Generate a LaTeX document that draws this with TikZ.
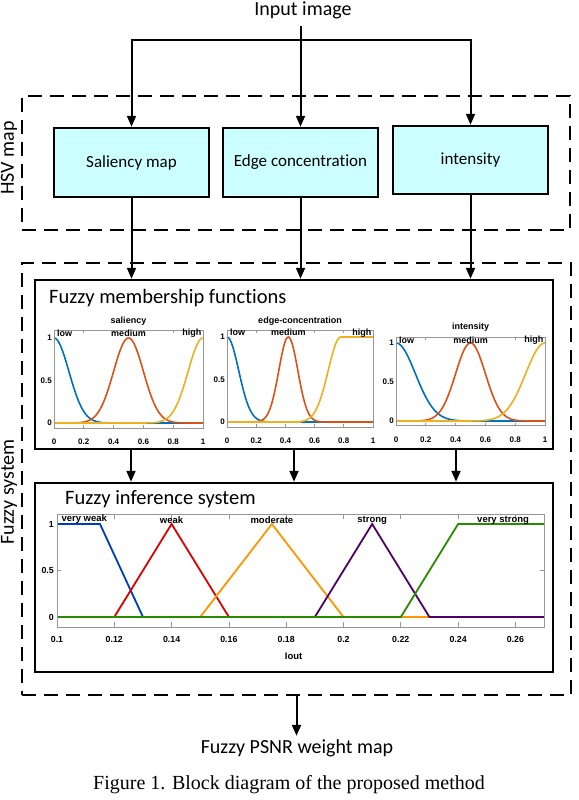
\documentclass[tikz,border=0pt]{standalone}
\usepackage{fontspec}
\setmainfont{Carlito}[Ligatures=NoCommon]
\newfontfamily\capfont{Liberation Serif}
\newfontfamily\plotfont{Liberation Sans}
\usetikzlibrary{arrows.meta}
\definecolor{boxcyan}{RGB}{204,255,255}
\definecolor{mblue}{rgb}{0,0.447,0.741}
\definecolor{morange}{rgb}{0.85,0.325,0.098}
\definecolor{myellow}{rgb}{0.929,0.694,0.125}
\definecolor{vwblue}{RGB}{0,60,190}
\definecolor{wred}{RGB}{220,0,0}
\definecolor{morng}{RGB}{255,150,0}
\definecolor{spurple}{RGB}{80,0,100}
\definecolor{vsgreen}{RGB}{40,140,0}
\definecolor{axgray}{RGB}{150,150,150}
\tikzset{
  arr/.style={line width=2pt,-{Triangle[length=11pt,width=9pt]}},
  hsvbox/.style={draw,line width=2.5pt,fill=boxcyan,inner sep=0pt,font=\fontsize{17}{19}\selectfont},
  panel/.style={draw,line width=2.5pt,fill=white,inner sep=0pt},
  dashbox/.style={draw,line width=2.5pt,dash pattern=on 14pt off 8pt,inner sep=0pt},
  mfline/.style={line width=1.6pt},
  fisline/.style={line width=1.8pt},
  axline/.style={draw=axgray,line width=0.7pt},
  ticklab/.style={font=\plotfont\bfseries\fontsize{8}{9}\selectfont,inner sep=1pt},
  fistick/.style={font=\plotfont\bfseries\fontsize{8.8}{10}\selectfont,inner sep=1pt},
  mflab/.style={font=\plotfont\bfseries\fontsize{9}{10}\selectfont,inner sep=0pt},
  fislab/.style={font=\plotfont\bfseries\fontsize{9.5}{10}\selectfont,inner sep=0pt},
  bigtxt/.style={font=\fontsize{20}{22}\selectfont},
  paneltitle/.style={font=\fontsize{20.5}{22}\selectfont,anchor=west,inner sep=0pt},
}
% membership axes: #1 prefix, #2 ytop, #3 ybottom
\newcommand{\mfaxes}[3]{%
  \foreach \t/\l [count=\i] in {0/0,0.2/0.2,0.4/0.4,0.6/0.6,0.8/0.8,1/1}{%
    \draw[axline] (\t,#3) -- ++(0,0.04);
    \draw[axline] (\t,#2) -- ++(0,-0.04);
    \node[ticklab,yshift=-19pt] (#1x\i) at (\t,0) {\l};}
  \foreach \t/\l [count=\i] in {0/0,0.5/0.5,1/1}{%
    \node[ticklab,anchor=east,xshift=-1pt] (#1y\i) at (0,\t) {\l};}
}
\begin{document}
\begin{tikzpicture}[x=1pt,y=-1pt]
\useasboundingbox (0,0) rectangle (578,800);
\fill[white] (0,0) rectangle (578,800);

% ---------- HSV map ----------
\node[bigtxt] (in) at (303,10) {Input image};
\node[dashbox,minimum width=548pt,minimum height=134pt] (hsv) at (296,163) {};
\node[bigtxt,rotate=90] (hsvlab) at (9,158) {HSV map};
\node[hsvbox,minimum width=155pt,minimum height=69pt] (sal) at (131.5,162.5) {Saliency map};
\node[hsvbox,minimum width=155pt,minimum height=69pt] (edge) at (300.5,162.5) {Edge concentration};
\node[hsvbox,minimum width=155pt,minimum height=68pt] (int) at (470.5,160) {intensity};
\coordinate (j) at (300.5,40);
\draw[line width=2pt] (edge.north |- in.south) ++(0,4) -- (j);
\draw[arr] (j) -- (edge.north);
\draw[arr] (j) -| (sal.north);
\draw[arr] (j) -| (int.north);

% ---------- Fuzzy system ----------
\node[dashbox,minimum width=549pt,minimum height=432pt] (fz) at (296.5,479) {};
\node[bigtxt,rotate=90] (fzlab) at (9,492) {Fuzzy system};
\node[panel,minimum width=518pt,minimum height=169pt] (mem) at (294,364.5) {};
\node[panel,minimum width=518pt,minimum height=189pt] (inf) at (294,577.5) {};
\node[paneltitle] (memt) at (49,298) {Fuzzy membership functions};
\node[paneltitle] (inft) at (65,499) {Fuzzy inference system};

\draw[arr] (sal.south) -- (sal.south |- mem.north);
\draw[arr] (edge.south) -- (edge.south |- mem.north);
\draw[arr] (int.south) -- (int.south |- mem.north);
\draw[arr] (mem.south -| 131,0) -- (inf.north -| 131,0);
\draw[arr] (mem.south -| 294,0) -- (inf.north -| 294,0);
\draw[arr] (mem.south -| 456,0) -- (inf.north -| 456,0);

% ---------- plot 1: saliency ----------
\begin{scope}[shift={(54,423)},x=149pt,y=85pt]
  \mfaxes{a}{1.094}{-0.06}
  \draw[mfline,mblue] plot[domain=0:1,samples=100] (\x,{exp(-(\x*\x)/0.02)});
  \draw[mfline,morange] plot[domain=0:1,samples=100] (\x,{exp(-((\x-0.5)*(\x-0.5))/0.02)});
  \draw[mfline,myellow] plot[domain=0:1,samples=100] (\x,{exp(-((\x-1)*(\x-1))/0.02)});
  \draw[axline] (0,-0.06) rectangle (1,1.094);
  \node[mflab,anchor=west] (alow) at (0.02,1.06) {low};
  \node[mflab] (amed) at (0.5,1.06) {medium};
  \node[mflab,anchor=east] (ahigh) at (0.99,1.06) {high};
  \node[mflab] (atit) at (0.5,1.2) {saliency};
\end{scope}

% ---------- plot 2: edge-concentration ----------
\begin{scope}[shift={(227,422)},x=146pt,y=85pt]
  \mfaxes{b}{1.082}{-0.06}
  \draw[mfline,mblue] plot[domain=0:1,samples=100] (\x,{exp(-(\x*\x)/0.0128)});
  \draw[mfline,morange] plot[domain=0:1,samples=100] (\x,{exp(-((\x-0.42)*(\x-0.42))/0.00845)});
  \draw[mfline,myellow] (0,0) -- (0.5,0) -- plot[domain=0.5:0.78,samples=40] (\x,{exp(-((\x-0.78)*(\x-0.78))/0.015)}) -- (1,1);
  \draw[axline] (0,-0.06) rectangle (1,1.082);
  \node[mflab,anchor=west] (blow) at (0.02,1.05) {low};
  \node[mflab] (bmed) at (0.42,1.05) {medium};
  \node[mflab,anchor=east] (bhigh) at (0.99,1.05) {high};
  \node[mflab] (btit) at (0.5,1.19) {edge-concentration};
\end{scope}

% ---------- plot 3: intensity ----------
\begin{scope}[shift={(396,421)},x=149pt,y=78pt]
  \mfaxes{c}{1.077}{-0.06}
  \draw[mfline,mblue] plot[domain=0:1,samples=100] (\x,{exp(-(\x*\x)/0.0338)});
  \draw[mfline,morange] plot[domain=0:1,samples=100] (\x,{exp(-((\x-0.5)*(\x-0.5))/0.02)});
  \draw[mfline,myellow] plot[domain=0:1,samples=100] (\x,{exp(-((\x-1)*(\x-1))/0.0338)});
  \draw[axline] (0,-0.06) rectangle (1,1.077);
  \node[mflab,anchor=west] (clow) at (0.02,1.03) {low};
  \node[mflab] (cmed) at (0.5,1.03) {medium};
  \node[mflab,anchor=east] (chigh) at (0.99,1.03) {high};
  \node[mflab] (ctit) at (0.5,1.2) {intensity};
\end{scope}

% ---------- inference plot ----------
\begin{scope}[shift={(-229.5,617)},x=2865pt,y=93pt]
  \foreach \t/\l [count=\i] in {0.1/0.1,0.12/0.12,0.14/0.14,0.16/0.16,0.18/0.18,0.2/0.2,0.22/0.22,0.24/0.24,0.26/0.26}{%
    \draw[axline] (\t,-0.107) -- ++(0,0.05);
    \draw[axline] (\t,1.108) -- ++(0,-0.05);
    \node[fistick,yshift=-22pt] (dx\i) at (\t,0) {\l};}
  \foreach \t/\l [count=\i] in {0/0,0.5/0.5,1/1}{%
    \draw[axline] (0.1,\t) -- ++(0.0015,0);
    \draw[axline] (0.27,\t) -- ++(-0.0015,0);
    \node[fistick,anchor=east,xshift=-2pt] (dy\i) at (0.1,\t) {\l};}
  \draw[fisline,vwblue] (0.1,1) -- (0.115,1) -- (0.13,0) -- (0.27,0);
  \draw[fisline,wred] (0.1,0) -- (0.12,0) -- (0.14,1) -- (0.16,0) -- (0.27,0);
  \draw[fisline,morng] (0.1,0) -- (0.15,0) -- (0.175,1) -- (0.2,0) -- (0.27,0);
  \draw[fisline,spurple] (0.1,0) -- (0.19,0) -- (0.21,1) -- (0.23,0) -- (0.27,0);
  \draw[fisline,vsgreen] (0.1,0) -- (0.22,0) -- (0.24,1) -- (0.27,1);
  \draw[axline] (0.1,-0.107) rectangle (0.27,1.108);
  \node[fislab,anchor=west] (dvw) at (0.1015,1.05) {very weak};
  \node[fislab] (dw) at (0.14,1.04) {weak};
  \node[fislab] (dm) at (0.175,1.04) {moderate};
  \node[fislab] (ds) at (0.21,1.04) {strong};
  \node[fislab] (dvs) at (0.2557,1.04) {very strong};
  \node[fistick,font=\plotfont\bfseries\fontsize{9.5}{10}\selectfont] (dlab) at (0.1826,-0.42) {Iout};
\end{scope}

% ---------- output ----------
\node[bigtxt] (out) at (297,748) {Fuzzy PSNR weight map};
\draw[arr] (fz.south) -- (fz.south |- out.north);
\node[font=\capfont\fontsize{20}{22}\selectfont] (cap) at (289,785) {Figure 1. Block diagram of the proposed method};
\end{tikzpicture}
\end{document}
